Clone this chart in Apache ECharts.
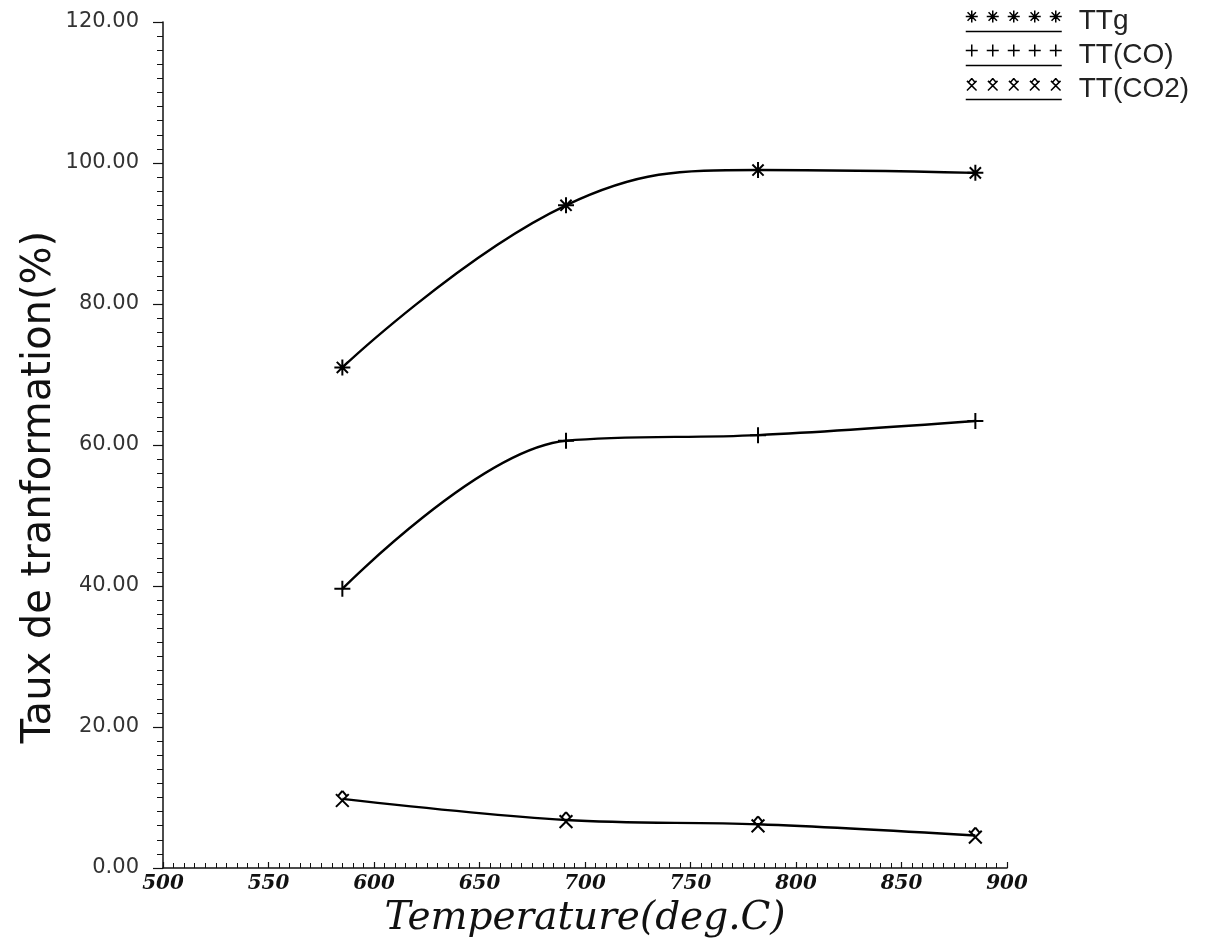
<!DOCTYPE html>
<html>
<head>
<meta charset="utf-8">
<script src="https://cdn.jsdelivr.net/npm/echarts@6/dist/echarts.min.js"></script>
<style>
  html, body { margin: 0; padding: 0; background: #fff; }
  #chart { width: 1214px; height: 947px; }
</style>
</head>
<body>
<div id="chart"></div>
<script>
// valeurs
const temperatures = [585, 691, 782, 885];
const ttg = [71.0, 94.0, 99.0, 98.6];
const ttCO = [39.6, 60.6, 61.4, 63.4];
const ttCO2 = [9.8, 6.8, 6.2, 4.6];
const seriesNames = ['TTg', 'TT(CO)', 'TT(CO2)'];
const yTicks = [0, 20, 40, 60, 80, 100, 120];
const xTicks = [500, 550, 600, 650, 700, 750, 800, 850, 900];

// marqueurs dessinés en traits (unités -1..1)
const MARKS = {
  star: [[-1, 0, 1, 0], [0, -1, 0, 1], [-0.7, -0.7, 0.7, 0.7], [0.7, -0.7, -0.7, 0.7]],
  plus: [[-1, 0, 1, 0], [0, -1, 0, 1]],
  cross: [[-0.8, -0.6, 0.8, 1], [0.8, -0.6, -0.8, 1], [-0.5, -0.4, 0, -1], [0, -1, 0.5, -0.4]]
};

function toPath(segs, cx, cy, r) {
  return segs.map(s =>
    'M' + (cx + s[0] * r).toFixed(2) + ' ' + (cy + s[1] * r).toFixed(2) +
    'L' + (cx + s[2] * r).toFixed(2) + ' ' + (cy + s[3] * r).toFixed(2)
  ).join('');
}

// icône de légende : cinq marqueurs soulignés
function legendIcon(segs) {
  let p = '';
  for (let i = 0; i < 5; i++) p += toPath(segs, 6 + i * 21, 6, 6);
  return 'path://' + p + 'M0 21L96 21';
}

const chart = echarts.init(document.getElementById('chart'));

const lineSeries = (name, values, mark, smooth) => ({
  name: name,
  type: 'line',
  data: temperatures.map((t, i) => [t, values[i]]),
  smooth: smooth,
  symbol: 'path://' + toPath(MARKS[mark], 0, 0, 10),
  symbolSize: 16,
  symbolKeepAspect: true,
  lineStyle: { color: '#000', width: 2.4 },
  itemStyle: { color: '#000', borderColor: '#000', borderWidth: 2 },
  z: 3
});

chart.setOption({
  backgroundColor: '#fff',
  animation: false,
  grid: { left: 163, right: 207, top: 22, bottom: 79 },
  legend: {
    orient: 'vertical',
    left: 960,
    top: 2,
    itemWidth: 96,
    itemHeight: 22,
    itemGap: 6,
    textStyle: {
      fontFamily: 'Liberation Sans',
      fontSize: 28,
      lineHeight: 24,
      color: '#222',
      padding: [0, 0, 0, 12]
    },
    itemStyle: { color: 'transparent', borderColor: '#000', borderWidth: 1.5 },
    lineStyle: { width: 0 },
    data: [
      { name: seriesNames[0], icon: legendIcon(MARKS.star) },
      { name: seriesNames[1], icon: legendIcon(MARKS.plus) },
      { name: seriesNames[2], icon: legendIcon(MARKS.cross) }
    ]
  },
  xAxis: {
    type: 'value',
    min: xTicks[0],
    max: xTicks[xTicks.length - 1],
    interval: 50,
    name: 'Temperature(deg.C)',
    nameLocation: 'middle',
    nameGap: 30,
    nameTextStyle: {
      fontFamily: 'DejaVu Serif',
      fontStyle: 'italic',
      fontSize: 39,
      color: '#111'
    },
    axisLine: { lineStyle: { color: '#111', width: 1.5 } },
    axisTick: { inside: true, length: 6, lineStyle: { color: '#111', width: 1.2 } },
    minorTick: { show: true, splitNumber: 10, length: 5, lineStyle: { color: '#111', width: 1 } },
    axisLabel: {
      margin: 6,
      fontFamily: 'DejaVu Serif',
      fontStyle: 'italic',
      fontWeight: 'bold',
      fontSize: 20,
      color: '#111'
    },
    splitLine: { show: false }
  },
  yAxis: {
    type: 'value',
    min: yTicks[0],
    max: yTicks[yTicks.length - 1],
    interval: 20,
    axisLine: { show: true, lineStyle: { color: '#111', width: 1.5 } },
    axisTick: { show: true, length: 10, lineStyle: { color: '#111', width: 1.2 } },
    minorTick: { show: true, splitNumber: 10, length: 6, lineStyle: { color: '#111', width: 1 } },
    axisLabel: {
      margin: 24,
      fontFamily: 'DejaVu Sans',
      fontSize: 21,
      color: '#333',
      formatter: v => v.toFixed(2)
    },
    splitLine: { show: false }
  },
  graphic: [{
    type: 'text',
    x: 40,
    y: 487,
    rotation: Math.PI / 2,
    style: {
      text: 'Taux de tranformation(%)',
      font: '40px "DejaVu Sans"',
      fill: '#111',
      textAlign: 'center',
      textVerticalAlign: 'middle',
      align: 'center',
      verticalAlign: 'middle'
    }
  }],
  series: [
    lineSeries(seriesNames[0], ttg, 'star', 0.42),
    lineSeries(seriesNames[1], ttCO, 'plus', 0.35),
    lineSeries(seriesNames[2], ttCO2, 'cross', 0.35)
  ]
});
</script>
</body>
</html>
